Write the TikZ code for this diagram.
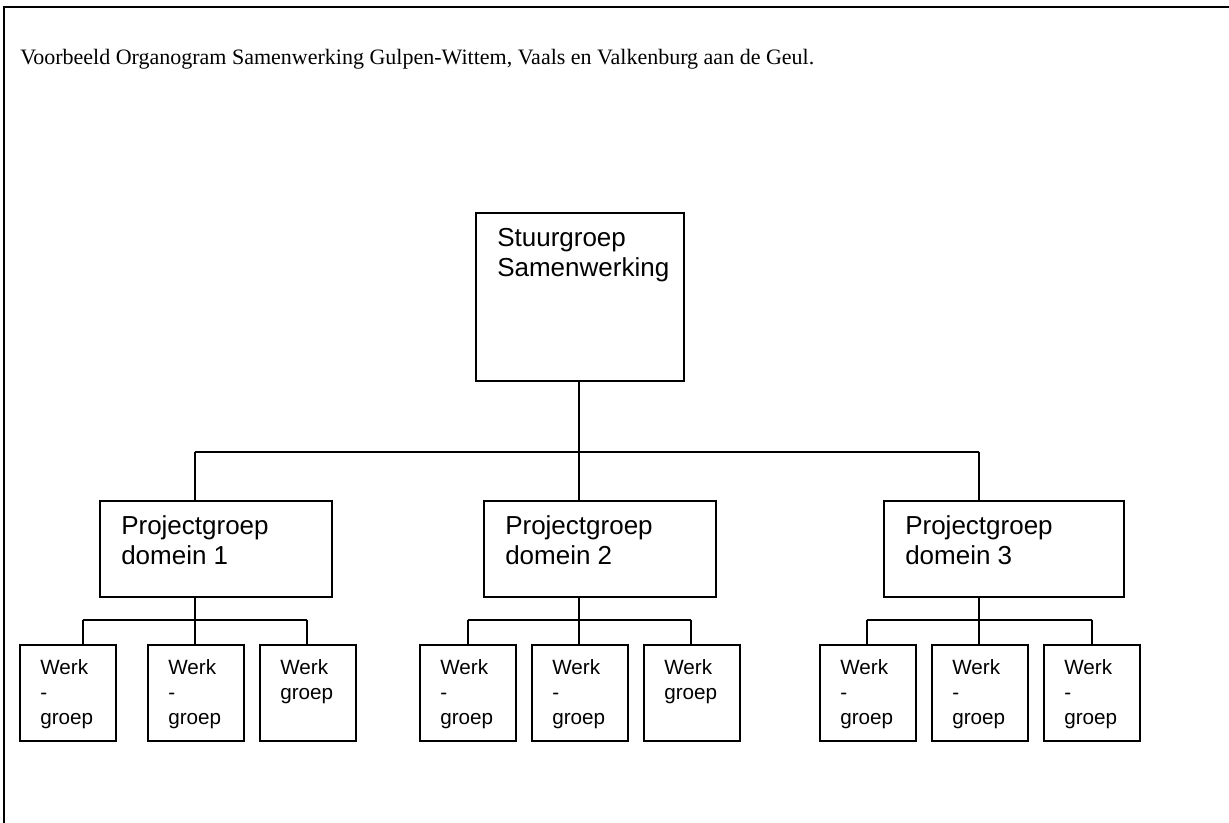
\documentclass[tikz,border=0pt]{standalone}
\usepackage{fontspec}
\setmainfont{Liberation Serif}
\setsansfont{Liberation Sans}
\usetikzlibrary{calc}
\newcommand\ogtext[1]{\begin{tabular}[t]{@{}l@{}}#1\end{tabular}}

\begin{document}
\begin{tikzpicture}[x=0.75pt, y=-0.75pt,
	frame/.style={line width=1.9pt},
	ogbox/.style={draw, line width=1.4pt, inner sep=0pt, anchor=north west},
	link/.style={line width=1.4pt},
	bigtext/.style={anchor=base west, inner sep=0pt, font=\sffamily\fontsize{19.5}{22.5}\selectfont},
	smalltext/.style={anchor=base west, inner sep=0pt, font=\sffamily\fontsize{15.5}{18.75}\selectfont}]
			%%%%% START %%%%%
			\useasboundingbox (0, 0) rectangle (1229, 823);
			
			\draw[frame] (4, 823) -- (4, 7) -- (1229, 7);
			\node[anchor=base west, inner sep=0pt, font=\fontsize{16.5}{19}\selectfont] (title) at (20, 65)
				{Voorbeeld Organogram Samenwerking Gulpen-Wittem, Vaals en Valkenburg aan de Geul.};
			
			\node[ogbox, minimum width=156pt, minimum height=126pt] (top) at (475, 212) {};
			\node[bigtext] (toptext) at (497, 247) {\ogtext{Stuurgroep\\Samenwerking}};
			
			\node[ogbox, minimum width=174pt, minimum height=72pt] (d1) at (99, 500) {};
			\node[ogbox, minimum width=174pt, minimum height=72pt] (d2) at (483, 500) {};
			\node[ogbox, minimum width=180pt, minimum height=72pt] (d3) at (883, 500) {};
			\node[bigtext] (d1text) at (121, 535) {\ogtext{Projectgroep\\domein 1}};
			\node[bigtext] (d2text) at (505, 535) {\ogtext{Projectgroep\\domein 2}};
			\node[bigtext] (d3text) at (905, 535) {\ogtext{Projectgroep\\domein 3}};
			
			\coordinate (j1) at (195, 452);
			\coordinate (j2) at (579, 452);
			\coordinate (j3) at (979, 452);
			\draw[link] (j2 |- top.south) -- (j2);
			\draw[link] (j1) -- (j3);
			\draw[link] (j1) -- (j1 |- d1.north);
			\draw[link] (j2) -- (j2 |- d2.north);
			\draw[link] (j3) -- (j3 |- d3.north);
			
			% werkgroepen domein 1
			\node[ogbox, minimum size=72pt] (w11) at (19, 644) {};
			\node[ogbox, minimum size=72pt] (w12) at (147, 644) {};
			\node[ogbox, minimum size=72pt] (w13) at (259, 644) {};
			\node[smalltext] (w11text) at (40, 674) {\ogtext{Werk\\-\\groep}};
			\node[smalltext] (w12text) at (168, 674) {\ogtext{Werk\\-\\groep}};
			\node[smalltext] (w13text) at (280, 674) {\ogtext{Werk\\groep}};
			\coordinate (k1) at (195, 620);
			\draw[link] (d1.south -| k1) -- (k1);
			\draw[link] (83, 620) coordinate (k1a) -- (307, 620) coordinate (k1c);
			\draw[link] (k1a) -- (k1a |- w11.north);
			\draw[link] (k1) -- (k1 |- w12.north);
			\draw[link] (k1c) -- (k1c |- w13.north);
			
			% werkgroepen domein 2
			\node[ogbox, minimum size=72pt] (w21) at (419, 644) {};
			\node[ogbox, minimum size=72pt] (w22) at (531, 644) {};
			\node[ogbox, minimum size=72pt] (w23) at (643, 644) {};
			\node[smalltext] (w21text) at (440, 674) {\ogtext{Werk\\-\\groep}};
			\node[smalltext] (w22text) at (552, 674) {\ogtext{Werk\\-\\groep}};
			\node[smalltext] (w23text) at (664, 674) {\ogtext{Werk\\groep}};
			\coordinate (k2) at (579, 620);
			\draw[link] (d2.south -| k2) -- (k2);
			\draw[link] (468, 620) coordinate (k2a) -- (691, 620) coordinate (k2c);
			\draw[link] (k2a) -- (k2a |- w21.north);
			\draw[link] (k2) -- (k2 |- w22.north);
			\draw[link] (k2c) -- (k2c |- w23.north);
			
			% werkgroepen domein 3
			\node[ogbox, minimum size=72pt] (w31) at (819, 644) {};
			\node[ogbox, minimum size=72pt] (w32) at (931, 644) {};
			\node[ogbox, minimum size=72pt] (w33) at (1043, 644) {};
			\node[smalltext] (w31text) at (840, 674) {\ogtext{Werk\\-\\groep}};
			\node[smalltext] (w32text) at (952, 674) {\ogtext{Werk\\-\\groep}};
			\node[smalltext] (w33text) at (1064, 674) {\ogtext{Werk\\-\\groep}};
			\coordinate (k3) at (979, 620);
			\draw[link] (d3.south -| k3) -- (k3);
			\draw[link] (867, 620) coordinate (k3a) -- (1092, 620) coordinate (k3c);
			\draw[link] (k3a) -- (k3a |- w31.north);
			\draw[link] (k3) -- (k3 |- w32.north);
			\draw[link] (k3c) -- (k3c |- w33.north);
			
			%%%%% END %%%%%
\end{tikzpicture}
\end{document}
